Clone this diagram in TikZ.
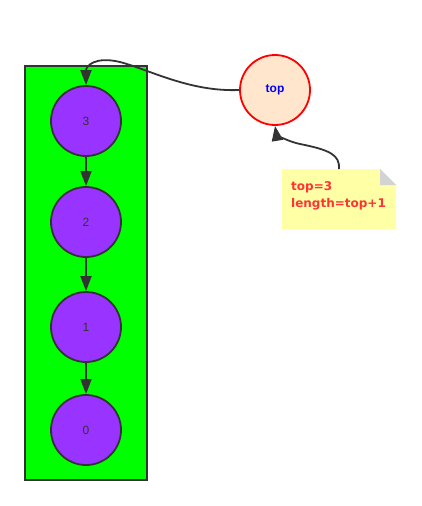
\documentclass[tikz,border=0pt]{standalone}
\usepackage{fontspec}
\setmainfont{Liberation Sans}
\newfontfamily\notefont{DejaVu Sans}
\usetikzlibrary{arrows.meta}
\definecolor{stk}{HTML}{333333}
\definecolor{gr}{HTML}{00FF00}
\definecolor{pu}{HTML}{9933FF}
\definecolor{peach}{HTML}{FFE6CC}
\definecolor{notey}{HTML}{FFFFA6}
\definecolor{fold}{HTML}{D3D3D3}
\definecolor{redt}{HTML}{FF3333}
\begin{document}
\begin{tikzpicture}[x=1pt,y=-1pt,
  stacknode/.style={circle,draw=stk,fill=pu,line width=1.8pt,minimum size=70pt,inner sep=0pt,text=stk,font=\fontsize{12}{14}\selectfont},
  topnode/.style={circle,draw=red,fill=peach,line width=1.8pt,minimum size=70pt,inner sep=0pt,text=blue,font=\fontsize{12}{14}\selectfont\bfseries},
  link/.style={draw=stk,line width=1.8pt,-{Triangle[length=15pt,width=11pt]}}]
\useasboundingbox (0,0) rectangle (422,506);
\node[draw=stk,fill=gr,line width=1.8pt,minimum width=122pt,minimum height=414pt,inner sep=0pt] (box) at (86,273) {};
\node[stacknode] (n3) at (86,121) {3};
\node[stacknode] (n2) at (86,222) {2};
\node[stacknode] (n1) at (86,327) {1};
\node[stacknode] (n0) at (86,430) {0};
\node[topnode] (top) at (275,90) {top};
% note
\fill[notey] (282,169) -- (380,169) -- (396,185) -- (396,229) -- (282,229) -- cycle;
\fill[fold] (380,169) -- (396,185) -- (380,185) -- cycle;
\node[anchor=north west,inner sep=0pt,text=redt,font=\notefont\fontsize{12}{17}\selectfont\bfseries,align=left] (note) at (291,181) {top=3\\length=top+1};
\coordinate (ns) at (339,169);
\draw[link] (n3) -- (n2);
\draw[link] (n2) -- (n1);
\draw[link] (n1) -- (n0);
\draw[link] (top.west) .. controls (190,92) and (150,70) .. (120,62) .. controls (95,56) and (86,66) .. (n3.north);
\draw[link] (ns) .. controls (340,155) and (330,150) .. (300,144) .. controls (282,140) and (276,132) .. (top.south);
\end{tikzpicture}
\end{document}
